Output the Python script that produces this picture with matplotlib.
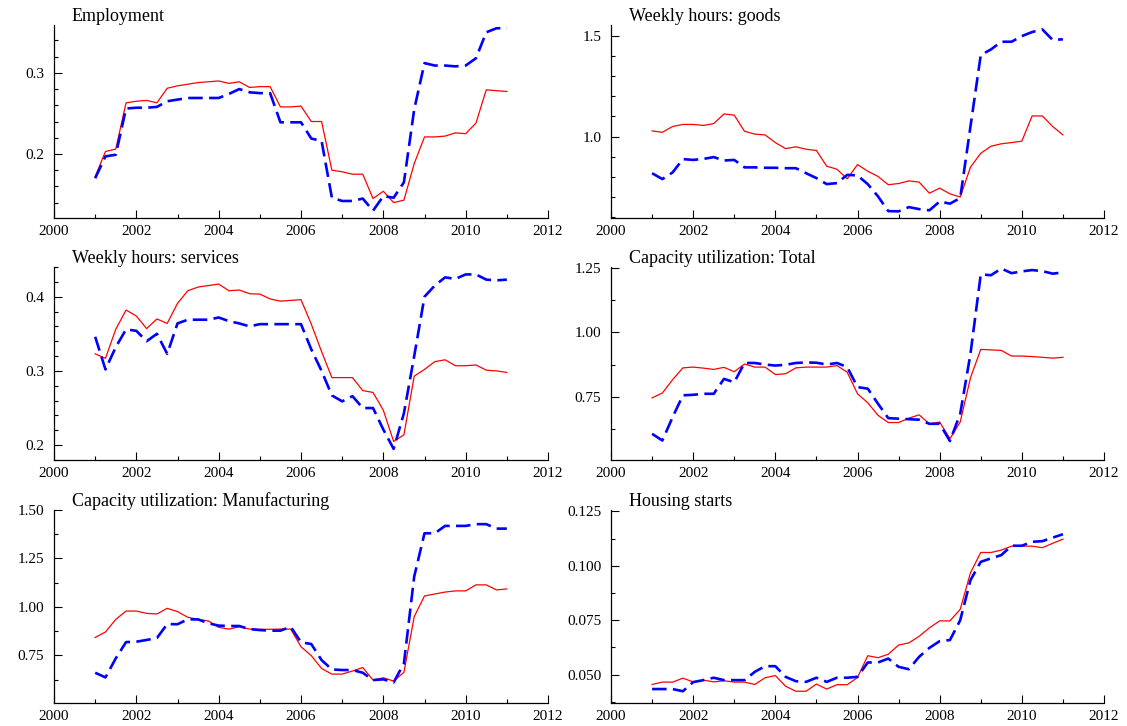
import numpy as np
import matplotlib
matplotlib.use("Agg")
import matplotlib.pyplot as plt
from matplotlib.ticker import MultipleLocator, FormatStrFormatter

plt.rcParams['font.family'] = ['Liberation Serif', 'DejaVu Serif']

# quarterly dates 2001Q1 .. 2011Q1
years = np.arange(2001, 2011.01, 0.25)

# Employment
emp_red = [0.172, 0.203, 0.206, 0.263, 0.265, 0.266, 0.263, 0.281, 0.284, 0.286,
           0.288, 0.289, 0.290, 0.287, 0.289, 0.282, 0.283, 0.283, 0.258, 0.258,
           0.259, 0.240, 0.240, 0.180, 0.178, 0.175, 0.175, 0.145, 0.154, 0.140,
           0.143, 0.188, 0.221, 0.221, 0.222, 0.226, 0.225, 0.238, 0.279, 0.278, 0.277]
emp_blue = [0.170, 0.197, 0.199, 0.256, 0.257, 0.257, 0.258, 0.265, 0.267, 0.269,
            0.269, 0.269, 0.269, 0.274, 0.280, 0.276, 0.275, 0.275, 0.239, 0.239,
            0.239, 0.219, 0.216, 0.146, 0.142, 0.142, 0.145, 0.130, 0.148, 0.146,
            0.165, 0.255, 0.312, 0.309, 0.309, 0.308, 0.309, 0.318, 0.350, 0.355, 0.355]

# Weekly hours: goods
goods_red = [1.028, 1.021, 1.050, 1.060, 1.060, 1.055, 1.064, 1.112, 1.106, 1.026,
             1.012, 1.008, 0.970, 0.940, 0.949, 0.937, 0.931, 0.853, 0.838, 0.790,
             0.861, 0.828, 0.802, 0.761, 0.767, 0.780, 0.774, 0.719, 0.744, 0.716,
             0.700, 0.848, 0.917, 0.952, 0.964, 0.970, 0.977, 1.102, 1.102, 1.050, 1.008]
goods_blue = [0.818, 0.789, 0.822, 0.888, 0.884, 0.889, 0.898, 0.881, 0.884, 0.847,
              0.847, 0.845, 0.845, 0.843, 0.843, 0.818, 0.794, 0.764, 0.769, 0.810,
              0.807, 0.764, 0.703, 0.630, 0.629, 0.650, 0.640, 0.634, 0.678, 0.667,
              0.695, 1.050, 1.404, 1.432, 1.470, 1.470, 1.498, 1.518, 1.531, 1.479, 1.482]

# Weekly hours: services
serv_red = [0.323, 0.317, 0.356, 0.382, 0.374, 0.357, 0.370, 0.364, 0.391, 0.408,
            0.413, 0.415, 0.417, 0.408, 0.409, 0.404, 0.4035, 0.397, 0.394, 0.395,
            0.396, 0.363, 0.326, 0.291, 0.291, 0.291, 0.2735, 0.271, 0.247, 0.205,
            0.214, 0.293, 0.302, 0.3125, 0.315, 0.307, 0.307, 0.308, 0.301, 0.300, 0.298]
serv_blue = [0.346, 0.302, 0.332, 0.356, 0.354, 0.340, 0.350, 0.323, 0.364, 0.369,
             0.369, 0.369, 0.372, 0.367, 0.364, 0.360, 0.363, 0.363, 0.363, 0.363,
             0.363, 0.329, 0.300, 0.267, 0.259, 0.266, 0.250, 0.250, 0.221, 0.195,
             0.243, 0.320, 0.400, 0.415, 0.426, 0.424, 0.430, 0.430, 0.423, 0.422, 0.423]

# Capacity utilization: Total
cut_red = [0.745, 0.764, 0.816, 0.862, 0.865, 0.861, 0.856, 0.864, 0.847, 0.877,
           0.865, 0.865, 0.836, 0.839, 0.862, 0.865, 0.865, 0.865, 0.871, 0.845,
           0.761, 0.726, 0.677, 0.649, 0.649, 0.666, 0.679, 0.644, 0.651, 0.586,
           0.651, 0.823, 0.934, 0.932, 0.930, 0.908, 0.908, 0.906, 0.903, 0.900, 0.903]
cut_blue = [0.605, 0.579, 0.670, 0.755, 0.757, 0.761, 0.761, 0.819, 0.806, 0.881,
            0.881, 0.875, 0.871, 0.874, 0.881, 0.883, 0.882, 0.875, 0.881, 0.865,
            0.787, 0.781, 0.722, 0.666, 0.664, 0.662, 0.660, 0.644, 0.644, 0.577,
            0.683, 0.917, 1.226, 1.223, 1.249, 1.231, 1.238, 1.243, 1.239, 1.229, 1.234]

# Capacity utilization: Manufacturing
cum_red = [0.843, 0.871, 0.936, 0.979, 0.979, 0.967, 0.964, 0.993, 0.976, 0.947,
           0.936, 0.928, 0.895, 0.886, 0.898, 0.886, 0.885, 0.885, 0.886, 0.886,
           0.795, 0.749, 0.683, 0.654, 0.654, 0.670, 0.688, 0.623, 0.635, 0.618,
           0.663, 0.950, 1.057, 1.067, 1.077, 1.083, 1.083, 1.114, 1.114, 1.088, 1.093]
cum_blue = [0.661, 0.637, 0.735, 0.819, 0.821, 0.830, 0.840, 0.912, 0.911, 0.936,
            0.936, 0.916, 0.904, 0.902, 0.902, 0.886, 0.881, 0.878, 0.878, 0.898,
            0.818, 0.809, 0.726, 0.678, 0.675, 0.675, 0.661, 0.623, 0.627, 0.611,
            0.709, 1.157, 1.380, 1.380, 1.418, 1.418, 1.418, 1.427, 1.427, 1.404, 1.404]

# Housing starts
hs_red = [0.0455, 0.0466, 0.0466, 0.0484, 0.0467, 0.0475, 0.0467, 0.0472, 0.0466, 0.0466,
          0.0455, 0.0486, 0.0496, 0.0447, 0.0424, 0.0424, 0.0457, 0.0434, 0.0454, 0.0454,
          0.0487, 0.0587, 0.0578, 0.0594, 0.0636, 0.0646, 0.0676, 0.0715, 0.0747, 0.0747,
          0.0800, 0.0968, 0.1061, 0.1061, 0.1072, 0.1090, 0.1090, 0.1090, 0.1083, 0.1103, 0.1122]
hs_blue = [0.0434, 0.0434, 0.0434, 0.0424, 0.0466, 0.0475, 0.0486, 0.0475, 0.0475, 0.0475,
           0.0513, 0.0539, 0.0539, 0.0490, 0.0470, 0.0467, 0.0486, 0.0467, 0.0486, 0.0486,
           0.0490, 0.0556, 0.0556, 0.0574, 0.0536, 0.0525, 0.0582, 0.0623, 0.0654, 0.0659,
           0.0750, 0.0934, 0.1018, 0.1034, 0.1049, 0.1092, 0.1092, 0.1110, 0.1113, 0.1129, 0.1145]

titles = ["Employment", "Weekly hours: goods", "Weekly hours: services",
          "Capacity utilization: Total", "Capacity utilization: Manufacturing",
          "Housing starts"]
reds = [emp_red, goods_red, serv_red, cut_red, cum_red, hs_red]
blues = [emp_blue, goods_blue, serv_blue, cut_blue, cum_blue, hs_blue]
ylims = [(0.121, 0.359), (0.596, 1.553), (0.18, 0.44),
         (0.503, 1.255), (0.505, 1.50), (0.037, 0.1256)]
majors = [0.1, 0.5, 0.1, 0.25, 0.25, 0.025]
minors = [0.02, 0.1, 0.02, 0.125, 0.125, 0.0125]
fmts = ['%.1f', '%.1f', '%.1f', '%.2f', '%.2f', '%.3f']

W, H = 1127, 726
fig = plt.figure(figsize=(W / 100, H / 100), dpi=100)

lefts = [54, 611]
widths = [494, 493]
tops = [25, 267, 510]
ah = 193

for i in range(6):
    r, c = divmod(i, 2)
    ax = fig.add_axes([lefts[c] / W, 1 - (tops[r] + ah) / H, widths[c] / W, ah / H])
    ax.plot(years, reds[i], color='#ff0000', lw=0.9)
    ax.plot(years, blues[i], color='#0000ff', lw=1.9, dashes=(5.5, 2.4))
    ax.set_xlim(2000, 2012)
    ax.set_ylim(*ylims[i])
    ax.xaxis.set_major_locator(MultipleLocator(2))
    ax.xaxis.set_minor_locator(MultipleLocator(1))
    ax.yaxis.set_major_locator(MultipleLocator(majors[i]))
    ax.yaxis.set_minor_locator(MultipleLocator(minors[i]))
    ax.yaxis.set_major_formatter(FormatStrFormatter(fmts[i]))
    ax.spines['top'].set_visible(False)
    ax.spines['right'].set_visible(False)
    for s in ['left', 'bottom']:
        ax.spines[s].set_linewidth(0.9)
    ax.tick_params(which='major', direction='in', length=6, width=0.8,
                   labelsize=11, pad=5)
    ax.tick_params(which='minor', direction='in', length=3, width=0.8)
    ax.tick_params(axis='y', which='major', pad=7)
    ax.text(18 / widths[c], 1.045, titles[i], transform=ax.transAxes,
            fontsize=13, ha='left', va='center')
    ax.set_clip_on(False)

fig.savefig('out.png', dpi=100)
